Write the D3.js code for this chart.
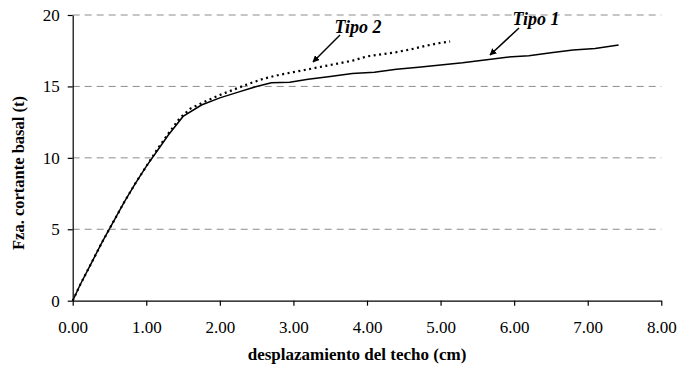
<!DOCTYPE html>
<html>
<head>
<meta charset="utf-8">
<script src="https://cdn.jsdelivr.net/npm/d3@7"></script>
<style>
  html, body { margin: 0; padding: 0; background: #fff; }
  svg { display: block; }
  text { font-family: "Liberation Serif", "Times New Roman", Times, serif; fill: #000; }
</style>
</head>
<body>
<svg id="chart" width="677" height="368"></svg>
<script>
// Roof displacement (cm) vs. base shear (t), two structural types
const tipo1Desp = [0, 0.1, 0.25, 0.4, 0.55, 0.7, 0.85, 1.0, 1.15, 1.3, 1.5, 1.75, 2.0, 2.25, 2.5, 2.7, 2.95, 3.2, 3.5, 3.8, 4.1, 4.4, 4.7, 5.0, 5.3, 5.6, 5.9, 6.2, 6.5, 6.8, 7.1, 7.42];
const tipo1Fza  = [0, 1.1, 2.6, 4.1, 5.5, 6.9, 8.2, 9.4, 10.5, 11.6, 12.9, 13.7, 14.2, 14.6, 15.0, 15.25, 15.3, 15.5, 15.7, 15.9, 16.0, 16.2, 16.35, 16.5, 16.65, 16.85, 17.05, 17.15, 17.35, 17.55, 17.65, 17.9];

const tipo2Desp = [0, 0.1, 0.25, 0.4, 0.55, 0.7, 0.85, 1.0, 1.15, 1.3, 1.45, 1.6, 1.8, 2.0, 2.2, 2.4, 2.6, 2.8, 3.0, 3.2, 3.4, 3.6, 3.8, 4.0, 4.2, 4.4, 4.6, 4.8, 5.0, 5.13];
const tipo2Fza  = [0, 1.1, 2.6, 4.1, 5.5, 6.9, 8.2, 9.4, 10.6, 11.7, 12.75, 13.45, 13.95, 14.4, 14.8, 15.2, 15.55, 15.8, 16.0, 16.2, 16.4, 16.6, 16.8, 17.1, 17.25, 17.4, 17.6, 17.85, 18.05, 18.15];

const xTicks = [0, 1, 2, 3, 4, 5, 6, 7, 8];
const yTicks = [0, 5, 10, 15, 20];

const serif = "'Liberation Serif', 'Times New Roman', Times, serif";
const svg = d3.select("#chart");
const x = d3.scaleLinear().domain([0, 8]).range([72.7, 661.3]);
const y = d3.scaleLinear().domain([0, 20]).range([300.7, 15]);

// dashed horizontal gridlines
svg.append("g")
  .selectAll("line")
  .data(yTicks.filter(d => d > 0))
  .join("line")
  .attr("x1", x(0)).attr("x2", x(8))
  .attr("y1", d => y(d)).attr("y2", d => y(d))
  .attr("stroke", "#8c8c8c")
  .attr("stroke-width", 1)
  .attr("stroke-dasharray", "7,5");

// axes
const xAxis = svg.append("g")
  .attr("transform", `translate(0,${y(0)})`)
  .call(d3.axisBottom(x).tickValues(xTicks).tickFormat(d3.format(".2f")).tickSize(5).tickSizeOuter(0).tickPadding(15));
const yAxis = svg.append("g")
  .attr("transform", `translate(${x(0)},0)`)
  .call(d3.axisLeft(y).tickValues(yTicks).tickFormat(d3.format("d")).tickSize(5).tickSizeOuter(0).tickPadding(8));

[xAxis, yAxis].forEach(g => {
  g.attr("font-family", serif);
  g.select(".domain").attr("stroke", "#000").attr("stroke-width", 1.2);
  g.selectAll(".tick line").attr("stroke", "#000").attr("stroke-width", 1.2);
  g.selectAll(".tick text")
    .style("font-family", serif)
    .attr("font-size", 17)
    .attr("fill", "#000");
});

// curves
const line = d3.line().x(d => x(d[0])).y(d => y(d[1]));
const tipo1 = tipo1Desp.map((d, i) => [d, tipo1Fza[i]]);
const tipo2 = tipo2Desp.map((d, i) => [d, tipo2Fza[i]]);

svg.append("path")
  .datum(tipo2)
  .attr("d", line)
  .attr("fill", "none")
  .attr("stroke", "#000")
  .attr("stroke-width", 2.2)
  .attr("stroke-dasharray", "2,3.5");

svg.append("path")
  .datum(tipo1)
  .attr("d", line)
  .attr("fill", "none")
  .attr("stroke", "#000")
  .attr("stroke-width", 1.5);

// axis titles
svg.append("text")
  .attr("x", 357).attr("y", 360)
  .attr("text-anchor", "middle")
  .attr("font-weight", "bold")
  .attr("font-size", 17)
  .style("font-family", serif)
  .text("desplazamiento del techo (cm)");

svg.append("text")
  .attr("transform", "translate(24,173) rotate(-90)")
  .attr("text-anchor", "middle")
  .attr("font-weight", "bold")
  .attr("font-size", 16.5)
  .style("font-family", serif)
  .text("Fza. cortante basal (t)");

// callouts
svg.append("defs").append("marker")
  .attr("id", "arrow")
  .attr("viewBox", "0 0 10 10")
  .attr("refX", 9).attr("refY", 5)
  .attr("markerWidth", 7).attr("markerHeight", 7)
  .attr("markerUnits", "userSpaceOnUse")
  .attr("orient", "auto")
  .append("path")
  .attr("d", "M0,0 L10,5 L0,10 Z")
  .attr("fill", "#000");

const callouts = [
  { label: "Tipo 2", tx: 358, ty: 33, x1: 340, y1: 35, x2: 313, y2: 62 },
  { label: "Tipo 1", tx: 536, ty: 25, x1: 519, y1: 28, x2: 490, y2: 55 }
];
callouts.forEach(c => {
  svg.append("text")
    .attr("x", c.tx).attr("y", c.ty)
    .attr("text-anchor", "middle")
    .attr("font-weight", "bold")
    .attr("font-style", "italic")
    .attr("font-size", 18)
    .style("font-family", serif)
    .text(c.label);
  svg.append("line")
    .attr("x1", c.x1).attr("y1", c.y1)
    .attr("x2", c.x2).attr("y2", c.y2)
    .attr("stroke", "#000")
    .attr("stroke-width", 1.5)
    .attr("marker-end", "url(#arrow)");
});
</script>
</body>
</html>
